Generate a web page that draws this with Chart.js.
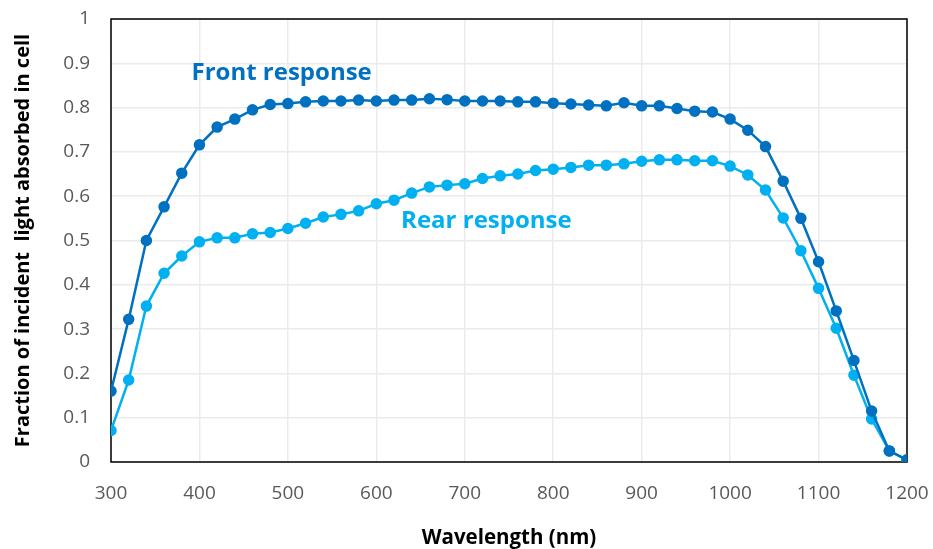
<!DOCTYPE html>
<html><head><meta charset="utf-8">
<script src="https://cdn.jsdelivr.net/npm/chart.js@4"></script>
<style>html,body{margin:0;padding:0;background:#fff}#wrap{width:933px;height:549px}</style>
</head><body><div id="wrap"><canvas id="c" width="933" height="549"></canvas></div>
<script>
const wavelengths = [300,320,340,360,380,400,420,440,460,480,500,520,540,560,580,600,620,640,660,680,700,720,740,760,780,800,820,840,860,880,900,920,940,960,980,1000,1020,1040,1060,1080,1100,1120,1140,1160,1180,1200];
const frontResponse = [0.160,0.322,0.500,0.576,0.652,0.716,0.756,0.774,0.795,0.807,0.809,0.813,0.815,0.815,0.817,0.815,0.817,0.817,0.820,0.818,0.815,0.815,0.815,0.813,0.813,0.810,0.808,0.806,0.804,0.811,0.804,0.804,0.798,0.792,0.790,0.774,0.749,0.712,0.634,0.550,0.452,0.341,0.229,0.115,0.025,0.005];
const rearResponse = [0.071,0.185,0.352,0.426,0.465,0.497,0.506,0.506,0.515,0.518,0.527,0.539,0.553,0.559,0.567,0.583,0.591,0.607,0.621,0.625,0.628,0.640,0.646,0.650,0.658,0.661,0.665,0.670,0.670,0.673,0.679,0.682,0.682,0.680,0.680,0.668,0.648,0.614,0.551,0.477,0.392,0.302,0.196,0.097,0.025,0.005];
const xTicks = [300,400,500,600,700,800,900,1000,1100,1200];
const yTicks = [0,0.1,0.2,0.3,0.4,0.5,0.6,0.7,0.8,0.9,1];
const seriesNames = ["Front response","Rear response"];
const labelAnchors = [[391,0.878],[628,0.544]];

const FONT = "'Open Sans', sans-serif";
const colors = ["#0070C0","#00B0F0"];

const boxPlugin = {
  id:'box',
  beforeDatasetsDraw(chart){
    const {ctx, chartArea:a} = chart;
    ctx.save();
    ctx.strokeStyle = '#000';
    ctx.lineWidth = 1.5;
    ctx.strokeRect(a.left, a.top, a.right - a.left, a.bottom - a.top);
    ctx.restore();
  },
  afterDatasetsDraw(chart){
    const {ctx, scales} = chart;
    ctx.save();
    ctx.font = "bold 24px " + FONT;
    ctx.textBaseline = 'middle';
    ctx.textAlign = 'left';
    seriesNames.forEach((n,i)=>{
      ctx.fillStyle = colors[i];
      ctx.fillText(n, scales.x.getPixelForValue(labelAnchors[i][0]), scales.y.getPixelForValue(labelAnchors[i][1]));
    });
    ctx.restore();
  }
};

const zeroPad = s => { s.paddingTop = 0; s.paddingBottom = 0; s.paddingLeft = 0; s.paddingRight = 0; };
const mk = arr => wavelengths.map((w,i)=>({x:w,y:arr[i]}));

new Chart(document.getElementById('c'), {
  type:'line',
  data:{datasets:[
    {label:seriesNames[0], data:mk(frontResponse), borderColor:colors[0], backgroundColor:colors[0], borderWidth:2.5, pointRadius:4.5, pointHoverRadius:4.5, tension:0},
    {label:seriesNames[1], data:mk(rearResponse), borderColor:colors[1], backgroundColor:colors[1], borderWidth:2.5, pointRadius:4.5, pointHoverRadius:4.5, tension:0}
  ]},
  options:{
    responsive:false, animation:false, devicePixelRatio:1,
    layout:{padding:{left:0,right:26,top:19,bottom:0}},
    plugins:{legend:{display:false}, tooltip:{enabled:false}},
    scales:{
      x:{type:'linear', min:300, max:1200,
        afterBuildTicks(s){ s.ticks = xTicks.map(v=>({value:v})); },
        afterFit(s){ s.height = 87; zeroPad(s); },
        grid:{color:'#ebebeb', lineWidth:1.5, drawTicks:false},
        border:{display:false},
        ticks:{padding:20, color:'#595959', font:{family:FONT, size:19}, maxRotation:0, autoSkip:false, callback:v=>String(v)},
        title:{display:true, text:'Wavelength (nm)', color:'#000', font:{family:FONT, size:20.5, weight:'bold'}, padding:{top:0,bottom:-1}}
      },
      y:{type:'linear', min:0, max:1,
        afterBuildTicks(s){ s.ticks = yTicks.map(v=>({value:v})); },
        afterFit(s){ s.width = 111; zeroPad(s); },
        grid:{color:'#ebebeb', lineWidth:1.5, drawTicks:false},
        border:{display:false},
        ticks:{padding:21, color:'#595959', font:{family:FONT, size:19}, autoSkip:false, callback:v=>String(v)},
        title:{display:true, text:'Fraction of incident  light absorbed in cell', color:'#000', font:{family:FONT, size:20, weight:'bold'}, padding:{top:11,bottom:0}}
      }
    }
  },
  plugins:[boxPlugin]
});
</script></body></html>
